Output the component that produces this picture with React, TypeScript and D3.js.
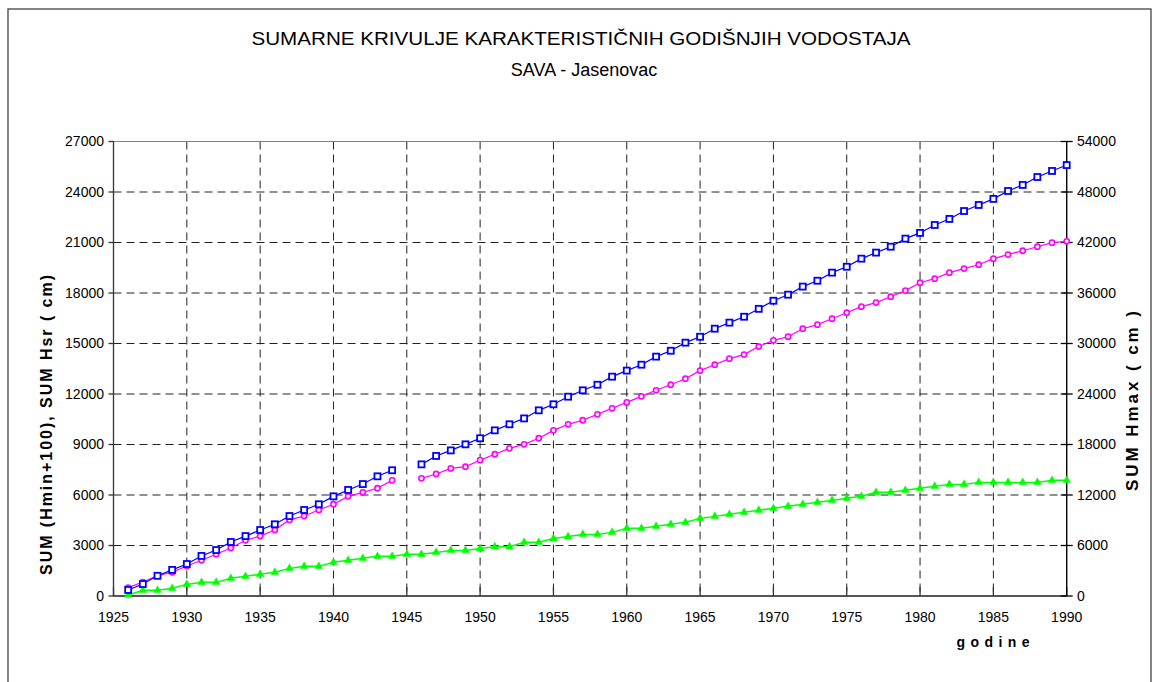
import * as d3 from "d3";

// godine 1926..1990 (1945 nedostaje za Hmax i Hsr)
const years = d3.range(1926, 1991);

// SUM Hmax (desna os)
const sumHmax = [
  720, 1420, 2400, 3100, 3800, 4760, 5460, 6420, 7120, 7840, 8520, 9500, 10220, 10900, 11840, 12600, 13300, 14220, 14940,
  null,
  15640, 16640, 17300, 18020, 18740, 19680, 20400, 21100, 22060, 22780, 23680, 24440, 25100, 26060, 26780, 27480, 28440,
  29140, 30100, 30800, 31760, 32480, 33180, 34120, 35080, 35800, 36760, 37460, 38420, 39120, 40080, 40800, 41500, 42460,
  43140, 44080, 44800, 45740, 46460, 47180, 48120, 48840, 49780, 50500, 51200,
];

// SUM Hsr (lijeva os)
const sumHsr = [
  500, 830, 1210, 1410, 1780, 2120, 2480, 2850, 3310, 3560, 3920, 4520, 4750, 5110, 5450, 5920, 6160, 6400, 6870,
  null,
  6990, 7250, 7580, 7680, 8070, 8420, 8770, 9010, 9370, 9840, 10200, 10440, 10790, 11150, 11500, 11860, 12220, 12550,
  12910, 13390, 13740, 14100, 14340, 14820, 15190, 15400, 15880, 16120, 16470, 16830, 17190, 17430, 17780, 18140, 18610,
  18850, 19210, 19450, 19680, 20040, 20280, 20510, 20750, 20990, 21070,
];

// SUM (Hmin+100) (lijeva os)
const sumHmin = [
  60, 340, 340, 460, 690, 810, 810, 1050, 1170, 1290, 1410, 1640, 1760, 1760, 2000, 2120, 2240, 2360, 2360, 2480, 2480,
  2590, 2710, 2710, 2820, 2930, 2930, 3190, 3190, 3410, 3530, 3660, 3660, 3780, 4020, 4020, 4140, 4260, 4380, 4610, 4730,
  4850, 4970, 5090, 5210, 5330, 5450, 5570, 5680, 5800, 5920, 6160, 6160, 6280, 6400, 6520, 6630, 6630, 6750, 6750, 6750,
  6750, 6750, 6870, 6870,
];

const xTicks = d3.range(1925, 1991, 5);
const leftTicks = d3.range(0, 27001, 3000);
const rightTicks = d3.range(0, 54001, 6000);

const font = "'Liberation Sans', Arial, sans-serif";

export default function App() {
  const x0 = 113.5, x1 = 1066.7, yTop = 141.5, yBot = 596;
  const x = d3.scaleLinear().domain([1925, 1990]).range([x0, x1]);
  const yL = d3.scaleLinear().domain([0, 27000]).range([yBot, yTop]);
  const yR = d3.scaleLinear().domain([0, 54000]).range([yBot, yTop]);

  const pts = (vals: (number | null)[]) => years.map((yr, i) => ({ yr, v: vals[i] }));
  const lineL = d3.line<any>().defined((d) => d.v != null).x((d) => x(d.yr)).y((d) => yL(d.v));
  const lineR = d3.line<any>().defined((d) => d.v != null).x((d) => x(d.yr)).y((d) => yR(d.v));

  const hmax = pts(sumHmax).filter((d) => d.v != null);
  const hsr = pts(sumHsr).filter((d) => d.v != null);
  const hmin = pts(sumHmin);
  const tri = d3.symbol().type(d3.symbolTriangle).size(30)();

  return (
    <>
      <style>{`body{margin:0}`}</style>
      <svg width={1159} height={682} style={{ display: "block", fontFamily: font }}>
        <rect x={0} y={0} width={1159} height={682} fill="#fff" />
        <rect x={8} y={9} width={1143} height={700} fill="none" stroke="#333" strokeWidth={1.2} />

        <text x={581} y={45} fontSize={18} textAnchor="middle" textLength={659} lengthAdjust="spacingAndGlyphs">
          SUMARNE KRIVULJE KARAKTERISTIČNIH GODIŠNJIH VODOSTAJA
        </text>
        <text x={584} y={76} fontSize={18} textAnchor="middle">
          SAVA - Jasenovac
        </text>

        {/* grid */}
        <g stroke="#222" strokeWidth={1} strokeDasharray="8 5">
          {leftTicks.slice(1).map((t) => (
            <line key={"h" + t} x1={x0} x2={x1} y1={yL(t)} y2={yL(t)} />
          ))}
          {xTicks.slice(1, -1).map((t) => (
            <line key={"v" + t} x1={x(t)} x2={x(t)} y1={yTop} y2={yBot} />
          ))}
        </g>
        <rect x={x0} y={yTop} width={x1 - x0} height={yBot - yTop} fill="none" stroke="#808080" strokeWidth={1} />

        {/* axes */}
        <g stroke="#333" strokeWidth={1.3}>
          <line x1={x0} x2={x0} y1={yTop} y2={yBot} />
          <line x1={x0} x2={x1} y1={yBot} y2={yBot} />
          {leftTicks.map((t) => (
            <line key={"lt" + t} x1={x0 - 5} x2={x0} y1={yL(t)} y2={yL(t)} />
          ))}
          {xTicks.map((t) => (
            <line key={"bt" + t} x1={x(t)} x2={x(t)} y1={yBot - 9} y2={yBot} />
          ))}
        </g>
        <g stroke="#000" strokeWidth={1.3}>
          <line x1={x1} x2={x1} y1={yTop} y2={yBot} />
          {rightTicks.map((t) => (
            <line key={"rt" + t} x1={x1 - 6} x2={x1 + 6} y1={yR(t)} y2={yR(t)} />
          ))}
        </g>

        <g fontSize={14} fill="#000">
          {leftTicks.map((t) => (
            <text key={"ll" + t} x={104} y={yL(t)} dy="0.35em" textAnchor="end">
              {t}
            </text>
          ))}
          {rightTicks.map((t) => (
            <text key={"rl" + t} x={1077} y={yR(t)} dy="0.35em" textAnchor="start">
              {t}
            </text>
          ))}
          {xTicks.map((t) => (
            <text key={"xl" + t} x={x(t)} y={622} textAnchor="middle">
              {t}
            </text>
          ))}
        </g>

        <text x={993} y={647} fontSize={14} fontWeight="bold" textAnchor="middle" textLength={73}>
          g o d i n e
        </text>
        <text
          transform="translate(52,425) rotate(-90)"
          fontSize={16}
          fontWeight="bold"
          textAnchor="middle"
          textLength={300}
        >
          SUM (Hmin+100), SUM Hsr ( cm)
        </text>
        <text
          transform="translate(1138,401) rotate(-90)"
          fontSize={17}
          fontWeight="bold"
          textAnchor="middle"
          textLength={180}
        >
          SUM Hmax ( cm )
        </text>

        {/* series */}
        <path d={lineL(hmin) ?? ""} fill="none" stroke="#00ff00" strokeWidth={1.5} />
        {hmin.map((d) => (
          <path key={"g" + d.yr} d={tri ?? ""} transform={`translate(${x(d.yr)},${yL(d.v as number)})`} fill="#00ff00" />
        ))}

        <path d={lineL(pts(sumHsr)) ?? ""} fill="none" stroke="#ff00ff" strokeWidth={1.2} />
        {hsr.map((d) => (
          <circle key={"p" + d.yr} cx={x(d.yr)} cy={yL(d.v as number)} r={2.6} fill="#fff" stroke="#ff00ff" strokeWidth={1.6} />
        ))}

        <path d={lineR(pts(sumHmax)) ?? ""} fill="none" stroke="#0000ff" strokeWidth={1.2} />
        {hmax.map((d) => (
          <rect
            key={"b" + d.yr}
            x={x(d.yr) - 3}
            y={yR(d.v as number) - 3}
            width={6}
            height={6}
            fill="#fff"
            stroke="#0000ff"
            strokeWidth={1.8}
          />
        ))}
      </svg>
    </>
  );
}
